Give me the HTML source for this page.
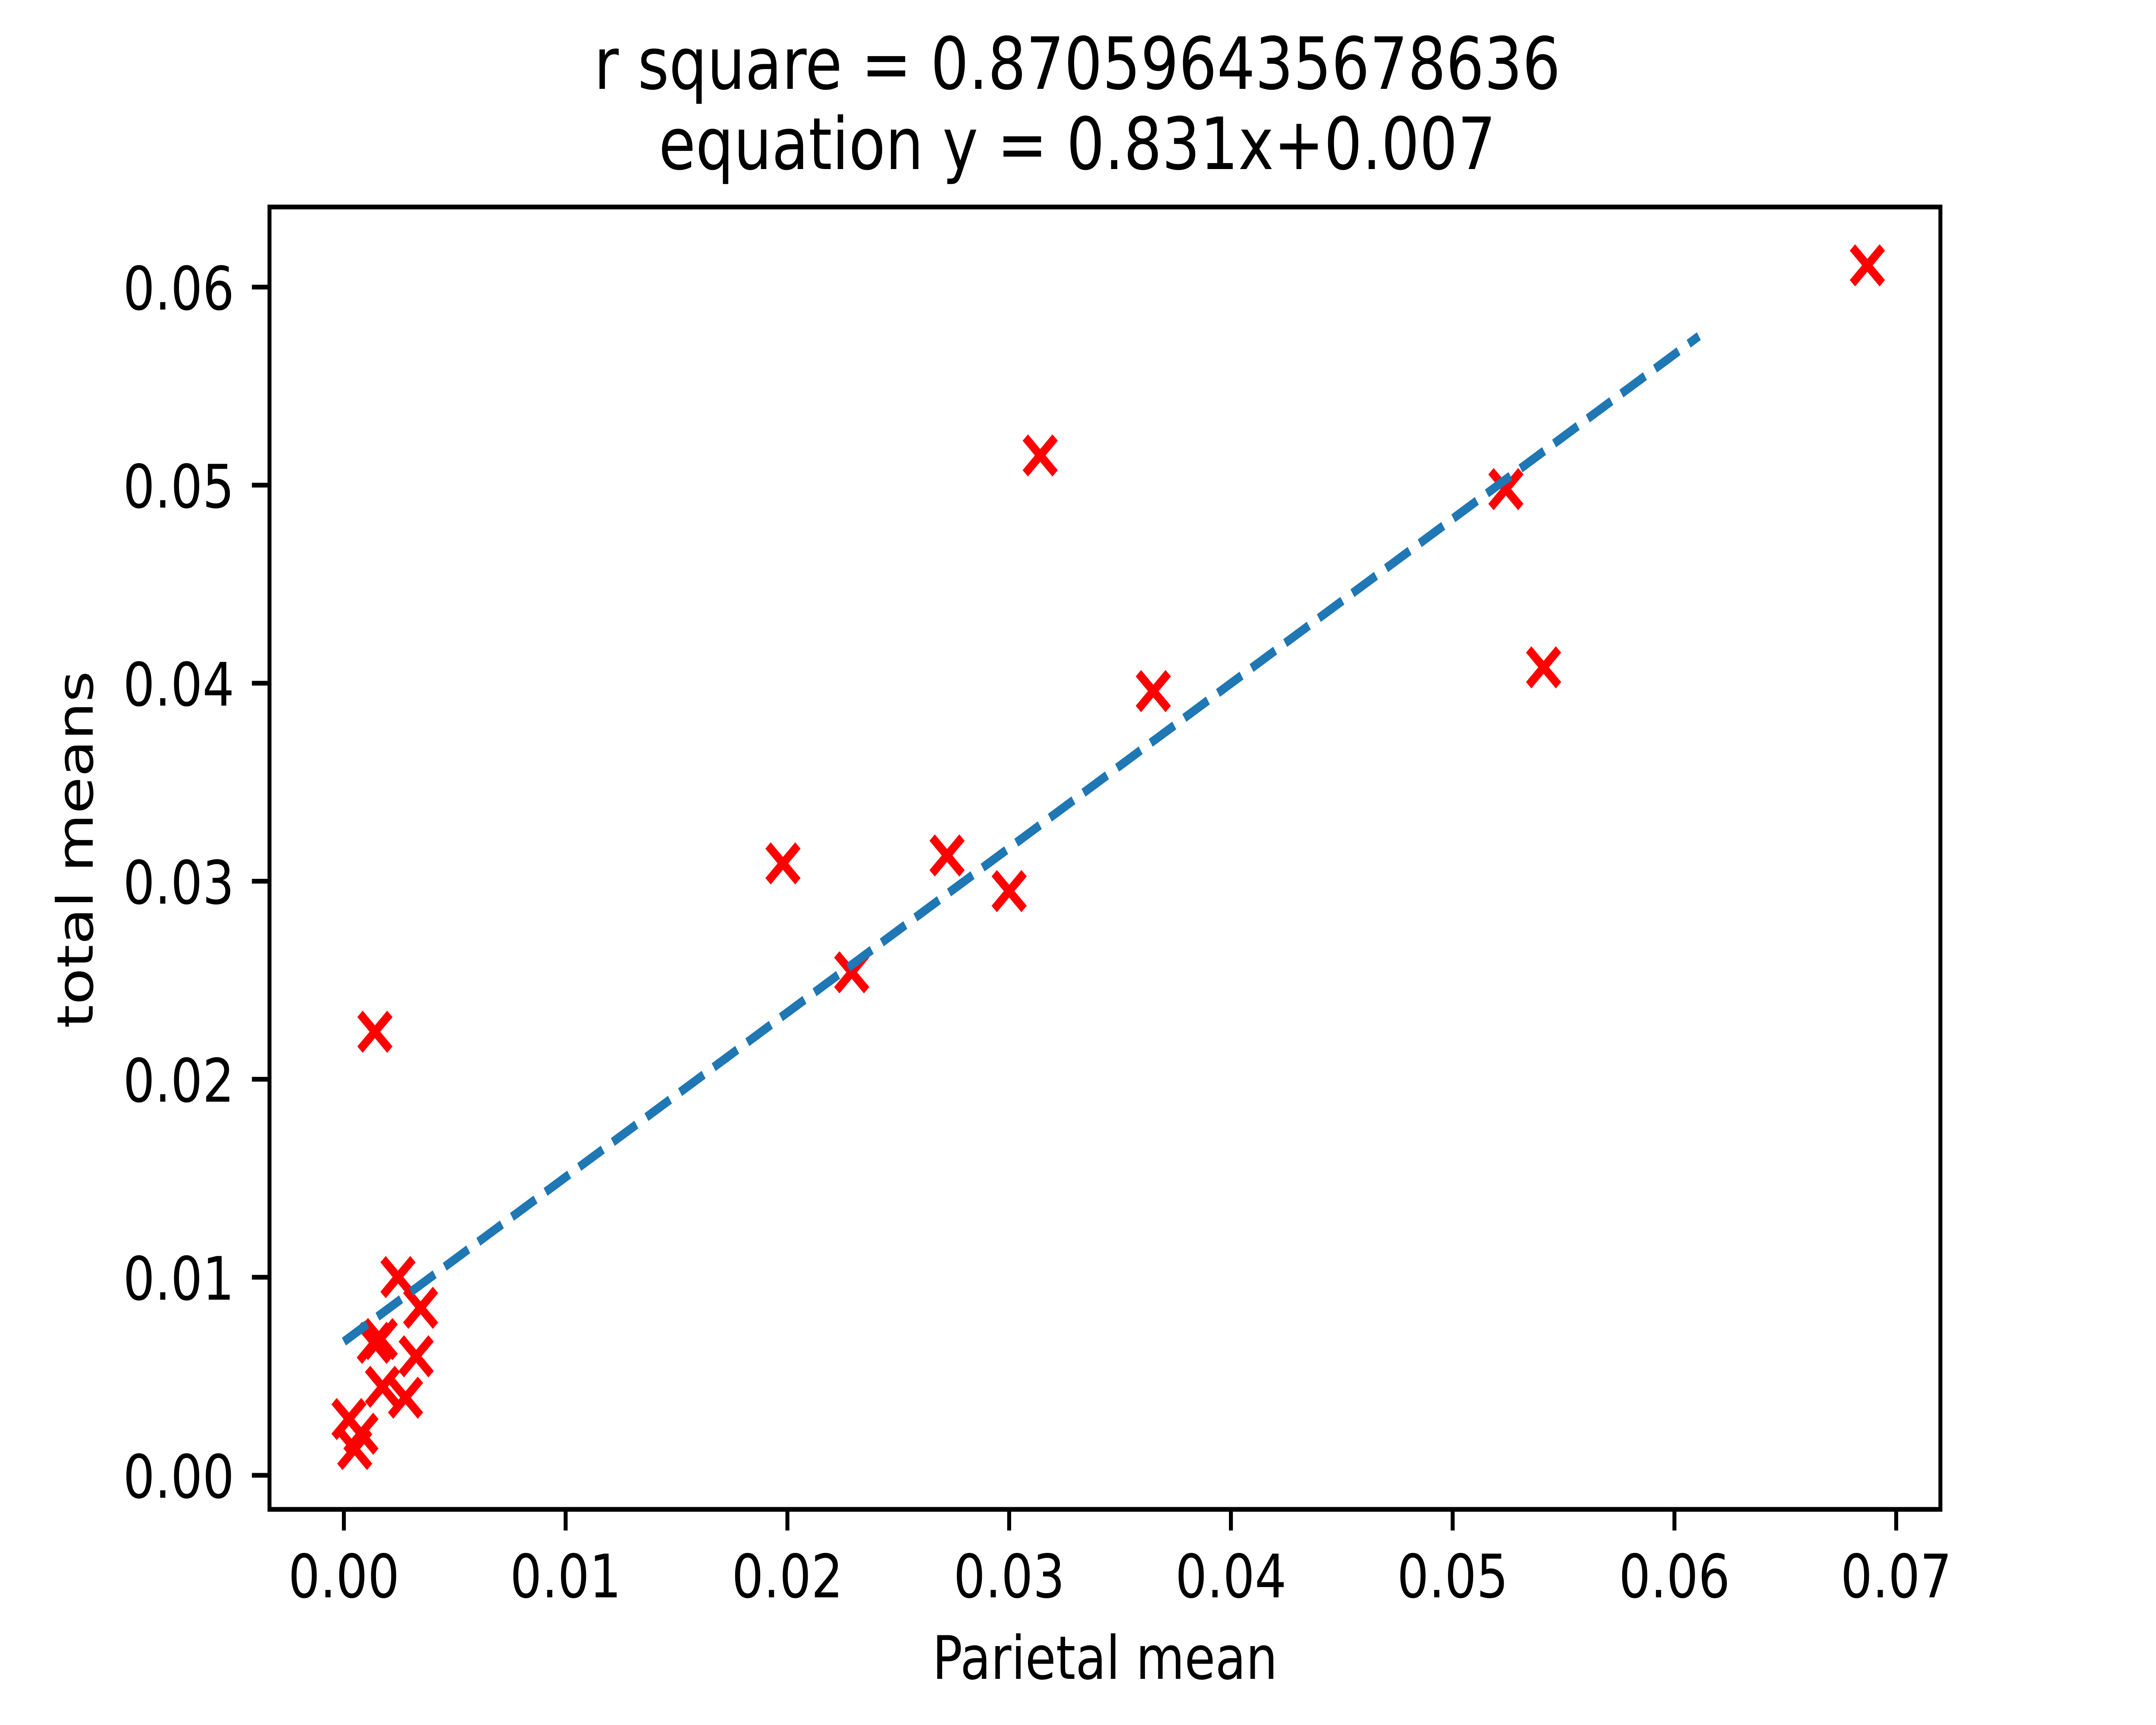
<!DOCTYPE html>
<html><head><meta charset="utf-8"><style>
html,body{margin:0;padding:0;background:#fff;overflow:hidden;width:100%;height:100%;}
svg{display:block;width:100vw;height:100vh;}
text{font-family:"DejaVu Sans","Liberation Sans",sans-serif;fill:#000;}
</style></head>
<body>
<svg id="chart" xmlns="http://www.w3.org/2000/svg" viewBox="0 0 6000 4000" preserveAspectRatio="none">
<rect x="0" y="0" width="6000" height="4000" fill="#fff"/>
<text x="2998" y="206" font-size="167" text-anchor="middle">r square = 0.870596435678636</text>
<text x="2998" y="392" font-size="167" text-anchor="middle">equation y = 0.831x+0.007</text>
<g id="ticks"></g>
<g id="marks"></g>
<rect x="750" y="480" width="4650" height="3020" fill="none" stroke="#000" stroke-width="11"/>
<text x="3075" y="3893" font-size="139" text-anchor="middle">Parietal mean</text>
<text x="258" y="1970" font-size="139" text-anchor="middle" transform="rotate(-90 258 1970)">total means</text>
</svg>
<script>
const xTicks = [0, 0.01, 0.02, 0.03, 0.04, 0.05, 0.06, 0.07];
const xTickLabels = ["0.00", "0.01", "0.02", "0.03", "0.04", "0.05", "0.06", "0.07"];
const yTicks = [0, 0.01, 0.02, 0.03, 0.04, 0.05, 0.06];
const yTickLabels = ["0.00", "0.01", "0.02", "0.03", "0.04", "0.05", "0.06"];
const parietalMean = [0.0687, 0.0314, 0.0524, 0.0541, 0.0365, 0.0198, 0.0272, 0.0300, 0.0229, 0.0014,
  0.00244, 0.00346, 0.00137, 0.00164, 0.00326, 0.00174, 0.00278, 0.00023, 0.00077, 0.00049];
const totalMeans = [0.0611, 0.0515, 0.0498, 0.0408, 0.0396, 0.0309, 0.0313, 0.0295, 0.0254, 0.0224,
  0.01001, 0.00846, 0.00669, 0.00688, 0.00601, 0.00447, 0.00392, 0.00284, 0.00210, 0.00133];
const fitSlope = [0.831];
const fitIntercept = [0.00675];
const fitXRange = [0, 0.0611];

const NS = "http://www.w3.org/2000/svg";
const X0 = 957, XS = 61714;
const Y0 = 3421, YS = 45920;
function sx(v){ return X0 + v * XS; }
function sy(v){ return Y0 - v * YS; }
function mk(tag, attrs, parent){
  const e = document.createElementNS(NS, tag);
  for (const k in attrs) e.setAttribute(k, attrs[k]);
  parent.appendChild(e);
  return e;
}
const ticksG = document.getElementById('ticks');
const marksG = document.getElementById('marks');

xTicks.forEach((v, i) => {
  const x = sx(v);
  const t = mk('line', {x1:x, x2:x, y1:3500, y2:3549, stroke:'#000', 'stroke-width':11}, ticksG);
  
  
  const l = mk('text', {x:x, y:3704, 'font-size':139, 'text-anchor':'middle'}, ticksG);
  l.textContent = xTickLabels[i];
  
  
});
yTicks.forEach((v, i) => {
  const y = sy(v);
  const t = mk('line', {x1:701, x2:750, y1:y, y2:y, stroke:'#000', 'stroke-width':11}, ticksG);
  
  
  const l = mk('text', {x:652, y:y + 52, 'font-size':139, 'text-anchor':'end'}, ticksG);
  l.textContent = yTickLabels[i];
  
  
});

parietalMean.forEach((xv, i) => {
  const cx = sx(xv), cy = sy(totalMeans[i]), h = 41.5;
  const p = mk('path', {d:`M${cx-h},${cy-h}L${cx+h},${cy+h}M${cx-h},${cy+h}L${cx+h},${cy-h}`,
    stroke:'#ff0000', 'stroke-width':21, fill:'none', 'stroke-linecap':'butt'}, marksG);
  
  
});

const fl = mk('line', {
  x1: sx(fitXRange[0]), y1: sy(fitSlope[0]*fitXRange[0] + fitIntercept[0]),
  x2: sx(fitXRange[1]), y2: sy(fitSlope[0]*fitXRange[1] + fitIntercept[0]),
  stroke:'#1f77b4', 'stroke-width':21, 'stroke-dasharray':'77 33', 'stroke-linecap':'butt'}, marksG);


</script>
</body></html>
